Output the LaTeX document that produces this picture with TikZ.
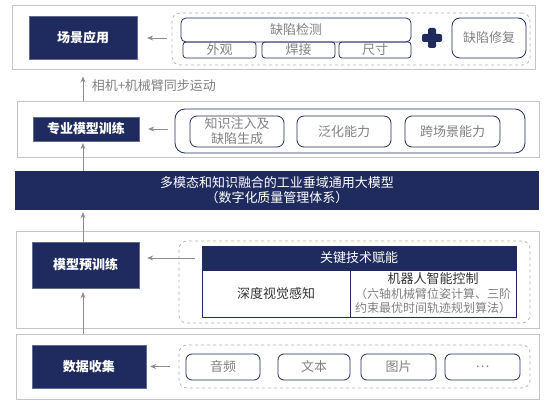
\documentclass[tikz,border=0pt]{standalone}
\usepackage{fontspec}
\setmainfont{Noto Sans CJK SC}
\usepackage{xcolor}
\usepackage{tikz}
\usetikzlibrary{arrows.meta,positioning,calc}
\definecolor{navy}{HTML}{1F2B5E}
\definecolor{layergray}{HTML}{C4C4C4}
\definecolor{dashgray}{HTML}{B0B0B0}
\definecolor{arrowgray}{HTML}{8C8C8C}
\definecolor{itemgray}{HTML}{808080}
\definecolor{darktext}{HTML}{333333}
\newcommand{\bodyfont}{\fontsize{13}{15}\selectfont}
\newcommand{\smallbody}{\fontsize{12}{14.5}\selectfont}
\newcommand{\stagefont}{\fontsize{13}{15}\selectfont\bfseries}

\begin{document}
\begin{tikzpicture}[
    x=1pt, y=-1pt,
    layerbox/.style={rectangle, draw=layergray, line width=1pt, inner sep=0pt},
    stagebox/.style={rectangle, fill=navy, draw=navy!70, text=white, font=\stagefont, inner sep=0pt},
    groupbox/.style={rectangle, draw=dashgray, dashed, rounded corners=8pt, line width=0.7pt, inner sep=0pt},
    itembox/.style={rectangle, draw=navy, rounded corners=5pt, line width=0.8pt, text=itemgray, font=\bodyfont, align=center, inner sep=0pt},
    cellbox/.style={rectangle, draw=navy, line width=0.8pt, font=\bodyfont, align=center, inner sep=0pt},
    arrow/.style={-{Stealth[length=6pt,width=5pt]}, draw=arrowgray, line width=0.9pt}
]
    \useasboundingbox (0,0) rectangle (547,401);

    % Layer 1: scene application
    \node[layerbox, minimum width=523, minimum height=64] (outer1) at (273.5,38) {};
    \node[stagebox, minimum width=108, minimum height=43] (app) at (83,38) {场景应用};
    \node[groupbox, minimum width=358, minimum height=52] (group1) at (351,39) {};
    \node[itembox, minimum width=230, minimum height=24] (detect) at (296,30) {缺陷检测};
    \node[itembox, minimum width=73, minimum height=16, rounded corners=3pt] (look) at (219.5,50) {外观};
    \node[itembox, minimum width=73, minimum height=16, rounded corners=3pt] (weld) at (298.5,50) {焊接};
    \node[itembox, minimum width=72, minimum height=16, rounded corners=3pt] (size) at (375,50) {尺寸};
    \node[itembox, minimum width=74, minimum height=40, rounded corners=8pt] (repair) at (489,38) {缺陷修复};
    \coordinate (plus) at (432,38);
    \fill[navy, rounded corners=2pt] ($(plus)+(-10,-4)$) rectangle ($(plus)+(10,4)$);
    \fill[navy, rounded corners=2pt] ($(plus)+(-4,-10)$) rectangle ($(plus)+(4,10)$);
    \draw[arrow, shorten <=5pt, shorten >=10pt] (group1.west |- app.east) -- (app.east);

    % Layer 2: domain model training
    \node[layerbox, minimum width=522, minimum height=56] (outer2) at (278,130) {};
    \node[stagebox, minimum width=106, minimum height=24] (train) at (86,129) {专业模型训练};
    \node[rectangle, draw=navy, rounded corners=10pt, line width=0.8pt, minimum width=350, minimum height=44] (ability) at (350,131) {};
    \node[itembox, minimum width=94, minimum height=31, rounded corners=7pt] (inject) at (237,131.5) {知识注入及\\缺陷生成};
    \node[itembox, minimum width=94, minimum height=31, rounded corners=7pt] (general) at (344,131.5) {泛化能力};
    \node[itembox, minimum width=95, minimum height=31, rounded corners=7pt] (cross) at (452.5,131.5) {跨场景能力};
    \draw[arrow, shorten <=7pt, shorten >=9pt] (ability.west |- train.east) -- (train.east);
    \draw[arrow, shorten >=6pt] (outer2.north -| app.south) -- node[right=5pt, text=itemgray, font=\bodyfont] {相机+机械臂同步运动} (outer1.south -| app.south);

    % General model band
    \node[rectangle, fill=navy, text=white, font=\bodyfont, align=center, inner sep=0pt, minimum width=524, minimum height=39] (band) at (277,190.5) {多模态和知识融合的工业垂域通用大模型\\（数字化质量管理体系）};
    \draw[arrow, shorten >=2pt] (band.north -| app.south) -- (train.south -| app.south);

    % Layer 3: pre-training
    \node[layerbox, minimum width=523, minimum height=96] (outer3) at (277.5,280) {};
    \node[stagebox, minimum width=107, minimum height=46] (pre) at (85.5,265) {模型预训练};
    \node[groupbox, minimum width=351, minimum height=82] (group3) at (354.5,282) {};
    \node[cellbox, fill=navy, text=white, minimum width=314, minimum height=24] (keytech) at (359,258) {关键技术赋能};
    \node[cellbox, text=darktext, minimum width=148, minimum height=47] (vision) at (276,293.5) {深度视觉感知};
    \node[cellbox, text=itemgray, font=\smallbody, minimum width=166, minimum height=47] (robot) at (433,293.5) {\textcolor{darktext}{\fontsize{13}{15}\selectfont 机器人智能控制}\\（六轴机械臂位姿计算、三阶\\约束最优时间轨迹规划算法）};
    \draw[arrow, shorten <=7pt, shorten >=8pt] (keytech.west) -- (keytech.west -| pre.east);
    \draw[arrow, shorten >=2pt] (pre.north -| app.south) -- (band.south -| app.south);

    % Layer 4: data collection
    \node[layerbox, minimum width=523, minimum height=65] (outer4) at (277.5,366.5) {};
    \node[stagebox, minimum width=114, minimum height=43] (collect) at (89,366.5) {数据收集};
    \node[groupbox, minimum width=351, minimum height=43] (group4) at (354.5,366.5) {};
    \node[itembox, minimum width=74, minimum height=26, rounded corners=6pt] (audio) at (223,367) {音频};
    \node[itembox, minimum width=72, minimum height=26, rounded corners=6pt] (text) at (314,367) {文本};
    \node[itembox, minimum width=75, minimum height=26, rounded corners=6pt] (image) at (398.5,367) {图片};
    \node[itembox, minimum width=75, minimum height=26, rounded corners=6pt] (more) at (482.5,367) {…};
    \draw[arrow, shorten <=9pt, shorten >=4pt] (group4.west |- collect.east) -- (collect.east);
    \draw[arrow, shorten >=4pt] (outer4.north -| app.south) -- (pre.south -| app.south);
\end{tikzpicture}
\end{document}
